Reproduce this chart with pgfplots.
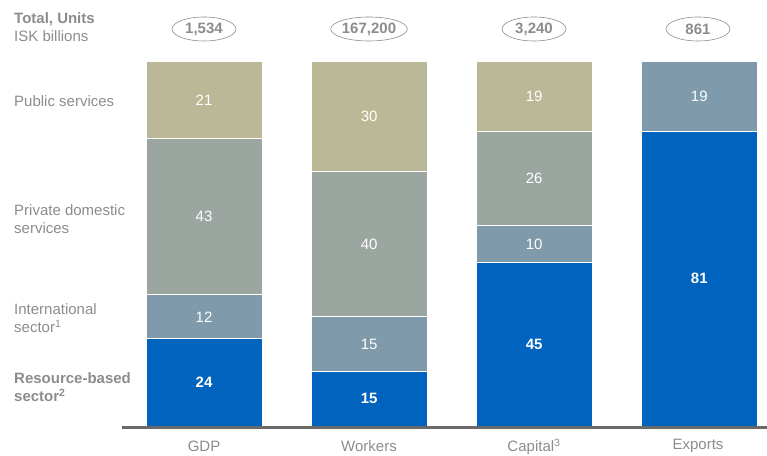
\documentclass[border=0pt]{standalone}
\usepackage{pgfplots}
\pgfplotsset{compat=1.18}
\usepackage{fontspec}
\setmainfont{Liberation Sans}
\usetikzlibrary{shapes.geometric}
\definecolor{cBlue}{RGB}{0,99,190}
\definecolor{cIntl}{RGB}{127,154,170}
\definecolor{cPriv}{RGB}{156,166,160}
\definecolor{cPub}{RGB}{186,184,150}
\definecolor{txt}{RGB}{140,140,140}
\definecolor{axl}{RGB}{105,105,105}
\tikzset{inlab/.style={text=white, font=\fontsize{15}{18}\selectfont},
  inlabb/.style={text=white, font=\fontsize{15}{18}\selectfont\bfseries},
  gt/.style={text=txt, font=\fontsize{15}{18}\selectfont}}
\begin{document}
\begin{tikzpicture}[x=1pt,y=1pt]
\path[use as bounding box] (0,0) rectangle (767,455);
\begin{axis}[
  at={(122pt,29pt)}, anchor=south west,
  scale only axis, width=645pt, height=364pt,
  xmin=-0.497, xmax=3.41, ymin=0, ymax=100,
  hide axis,
  ybar stacked, bar width=116pt,
  every axis plot/.append style={draw=white, line width=1pt},
  clip=false,
]
\addplot[fill=cBlue] coordinates {(0,24) (1,15) (2,45) (3,81)};
\addplot[fill=cIntl] coordinates {(0,12) (1,15) (2,10) (3,19)};
\addplot[fill=cPriv] coordinates {(0,43) (1,40) (2,26) (3,0)};
\addplot[fill=cPub] coordinates {(0,21) (1,30) (2,19) (3,0)};
\coordinate (a1) at (axis cs:0,12);
\coordinate (a2) at (axis cs:0,30);
\coordinate (a3) at (axis cs:0,57.5);
\coordinate (a4) at (axis cs:0,89.5);
\coordinate (b1) at (axis cs:1,7.5);
\coordinate (b2) at (axis cs:1,22.5);
\coordinate (b3) at (axis cs:1,50);
\coordinate (b4) at (axis cs:1,85);
\coordinate (c1) at (axis cs:2,22.5);
\coordinate (c2) at (axis cs:2,50);
\coordinate (c3) at (axis cs:2,68);
\coordinate (c4) at (axis cs:2,90.5);
\coordinate (d1) at (axis cs:3,40.5);
\coordinate (d2) at (axis cs:3,90.5);
\end{axis}
\node[inlabb] at (a1) {24};
\node[inlab] at (a2) {12};
\node[inlab] at (a3) {43};
\node[inlab] at (a4) {21};
\node[inlabb] at (b1) {15};
\node[inlab] at (b2) {15};
\node[inlab] at (b3) {40};
\node[inlab] at (b4) {30};
\node[inlabb] at (c1) {45};
\node[inlab] at (c2) {10};
\node[inlab] at (c3) {26};
\node[inlab] at (c4) {19};
\node[inlabb] at (d1) {81};
\node[inlab] at (d2) {19};
\draw[axl, line width=3pt] (122,27.5) -- (767,27.5);
\foreach \xx/\lab in {204/{1,534}, 369/{167,200}, 534/{3,240}, 698/{861}}{
  \node[draw=txt, line width=0.6pt, ellipse, minimum width=64pt, minimum height=24pt, inner sep=0pt, text=txt, font=\fontsize{15}{18}\selectfont\bfseries] at (\xx,426) {\lab};
}
\node[gt] at (204,9) {GDP};
\node[gt] at (369,9) {Workers};
\node[gt] at (534,8) {Capital\textsuperscript{3}};
\node[gt] at (698,9) {Exports};
\node[gt, anchor=west, align=left, inner sep=0pt] at (14,427.5) {\textbf{Total, Units}\\ISK billions};
\node[gt, anchor=west, align=left, inner sep=0pt] at (14,354) {Public services};
\node[gt, anchor=west, align=left, inner sep=0pt] at (14,236) {Private domestic\\services};
\node[gt, anchor=west, align=left, inner sep=0pt] at (14,137) {International\\sector\textsuperscript{1}};
\node[gt, anchor=west, align=left, inner sep=0pt, font=\fontsize{15}{18}\selectfont\bfseries] at (14,68) {Resource-based\\sector\textsuperscript{2}};
\end{tikzpicture}
\end{document}
